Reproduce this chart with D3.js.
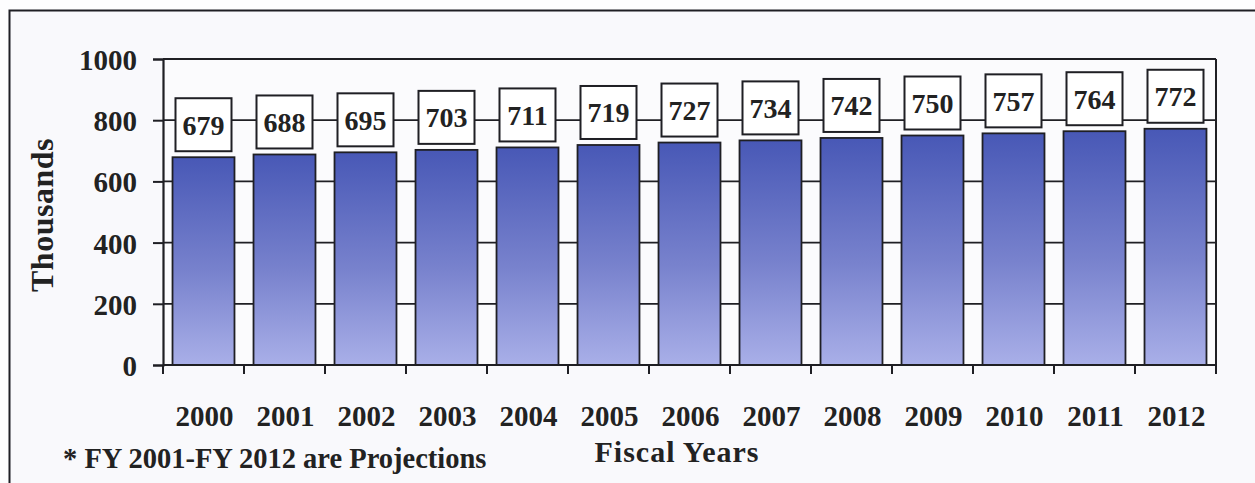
<!DOCTYPE html>
<html>
<head>
<meta charset="utf-8">
<script src="https://cdn.jsdelivr.net/npm/d3@7"></script>
<style>
  html, body { margin: 0; padding: 0; background: #ffffff; }
  svg { display: block; }
  text { font-family: "Liberation Serif", "Times New Roman", serif; font-weight: bold; fill: #222; }
</style>
</head>
<body>
<svg id="chart" width="1255" height="483"></svg>
<script>
// Fiscal years and enrollment (thousands)
const years = ["2000", "2001", "2002", "2003", "2004", "2005", "2006",
               "2007", "2008", "2009", "2010", "2011", "2012"];
const values = [679, 688, 695, 703, 711, 719, 727, 734, 742, 750, 757, 764, 772];
const yTicks = [0, 200, 400, 600, 800, 1000];

const svg = d3.select("#chart");
const W = 1255, H = 483;
const plot = { left: 163, right: 1216, top: 59, bottom: 365 };
const ink = "#1f1f24";

// Page frame
svg.append("rect").attr("x", 0).attr("y", 0).attr("width", W).attr("height", H).attr("fill", "#fdfdfe");
svg.append("rect").attr("x", 9.5).attr("y", 10.5).attr("width", W + 20).attr("height", H + 20)
  .attr("fill", "#f9f9fc").attr("stroke", ink).attr("stroke-width", 2);

// Bar gradient: deeper blue at the top fading to lavender at the base
const defs = svg.append("defs");
const grad = defs.append("linearGradient").attr("id", "barFill")
  .attr("x1", 0).attr("y1", 0).attr("x2", 0).attr("y2", 1);
grad.append("stop").attr("offset", "0%").attr("stop-color", "#4858b6");
grad.append("stop").attr("offset", "55%").attr("stop-color", "#7882cd");
grad.append("stop").attr("offset", "100%").attr("stop-color", "#a9afe8");

const x = d3.scaleBand().domain(years).range([plot.left, plot.right]).paddingInner(0.235).paddingOuter(0.1175);
const xStep = d3.scaleBand().domain(years).range([plot.left, plot.right]).padding(0);
const y = d3.scaleLinear().domain([0, 1000]).range([plot.bottom, plot.top]);

// Plot area background
svg.append("rect").attr("x", plot.left).attr("y", plot.top)
  .attr("width", plot.right - plot.left).attr("height", plot.bottom - plot.top)
  .attr("fill", "#fbfbfd");

// Horizontal gridlines behind bars
svg.append("g").selectAll("line").data(yTicks.filter(d => d > 0)).join("line")
  .attr("x1", plot.left).attr("x2", plot.right)
  .attr("y1", d => y(d)).attr("y2", d => y(d))
  .attr("stroke", ink).attr("stroke-width", 1.8);

// Right border of plot
svg.append("line").attr("x1", plot.right).attr("x2", plot.right)
  .attr("y1", plot.top).attr("y2", plot.bottom + 9)
  .attr("stroke", ink).attr("stroke-width", 2);

// Bars
svg.append("g").selectAll("rect").data(values).join("rect")
  .attr("x", (d, i) => x(years[i]))
  .attr("y", d => y(d))
  .attr("width", x.bandwidth())
  .attr("height", d => plot.bottom - y(d))
  .attr("fill", "url(#barFill)")
  .attr("stroke", ink).attr("stroke-width", 1.8);

// Y axis
const yAxis = d3.axisLeft(y).tickValues(yTicks).tickFormat(d3.format("d")).tickSize(10).tickPadding(16);
const gy = svg.append("g").attr("transform", `translate(${plot.left},0)`).call(yAxis);
gy.select(".domain").attr("stroke", ink).attr("stroke-width", 2.2);
gy.selectAll(".tick line").attr("stroke", ink).attr("stroke-width", 2);
gy.selectAll(".tick text").style("font-size", "29px").attr("fill", ink).attr("dy", "0.36em");

// X axis baseline and ticks at category boundaries
svg.append("line").attr("x1", plot.left).attr("x2", plot.right)
  .attr("y1", plot.bottom).attr("y2", plot.bottom)
  .attr("stroke", ink).attr("stroke-width", 2.2);
const bounds = years.map(d => xStep(d)).concat([plot.right]);
svg.append("g").selectAll("line").data(bounds).join("line")
  .attr("x1", d => d).attr("x2", d => d)
  .attr("y1", plot.bottom).attr("y2", plot.bottom + 9)
  .attr("stroke", ink).attr("stroke-width", 2);

// Year labels
svg.append("g").selectAll("text").data(years).join("text")
  .attr("x", d => xStep(d) + xStep.bandwidth() / 2 + 1)
  .attr("y", 426)
  .attr("text-anchor", "middle")
  .style("font-size", "29px")
  .text(d => d);

// Value boxes above each bar
const boxW = 56, boxH = 53, gapAbove = 6;
const labels = svg.append("g").selectAll("g").data(values).join("g")
  .attr("transform", (d, i) => `translate(${x(years[i]) + x.bandwidth() / 2},${y(d) - gapAbove - boxH})`);
labels.append("rect")
  .attr("x", -boxW / 2).attr("y", 0).attr("width", boxW).attr("height", boxH)
  .attr("fill", "#ffffff").attr("stroke", ink).attr("stroke-width", 2);
labels.append("text")
  .attr("x", 0).attr("y", boxH / 2 + 10)
  .attr("text-anchor", "middle")
  .style("font-size", "28px")
  .text(d => d);

// Axis titles and footnote
svg.append("text")
  .attr("transform", "translate(53,215) rotate(-90)")
  .attr("text-anchor", "middle")
  .style("font-size", "32px")
  .style("letter-spacing", "0.5px")
  .text("Thousands");

svg.append("text")
  .attr("x", 677).attr("y", 462)
  .attr("text-anchor", "middle")
  .style("font-size", "30px")
  .style("letter-spacing", "1px")
  .text("Fiscal Years");

svg.append("text")
  .attr("x", 63).attr("y", 468)
  .style("font-size", "28.5px")
  .text("* FY 2001-FY 2012 are Projections");
</script>
</body>
</html>
